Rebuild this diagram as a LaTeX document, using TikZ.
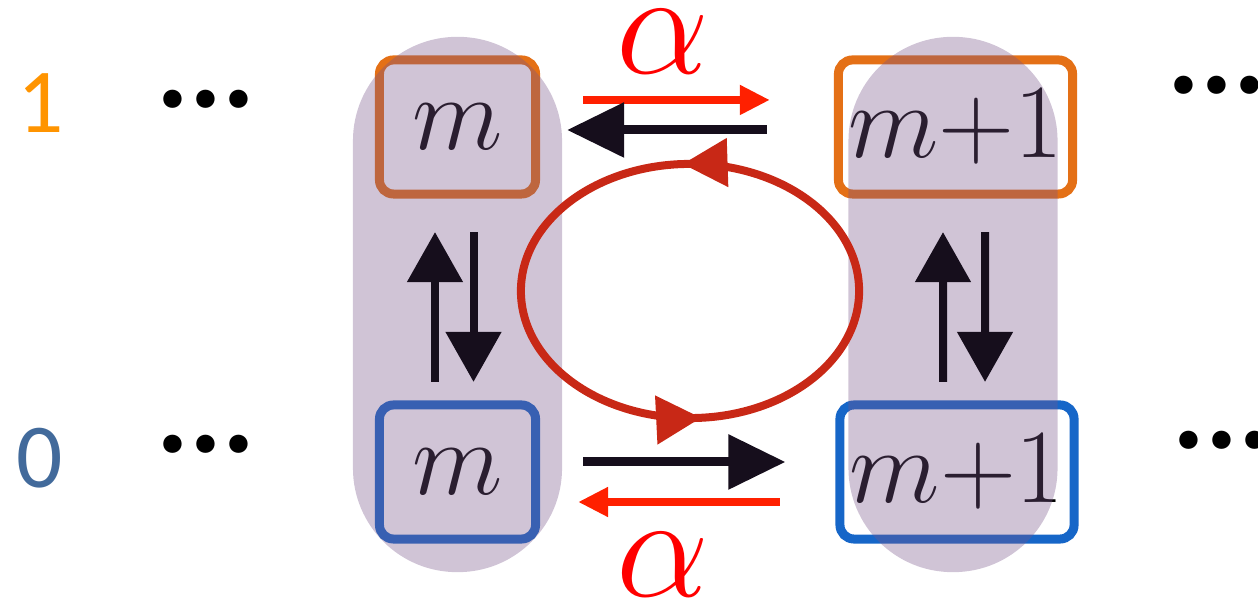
\RequirePackage{fix-cm}
\documentclass[tikz,border=0pt]{standalone}
\usepackage{fontspec}
\newfontfamily\calibfont{Carlito}
\usepackage{tikz}
\usetikzlibrary{
  arrows.meta,
  positioning,
  decorations.markings
}
\definecolor{levelOrange}{RGB}{228,112,22}
\definecolor{levelBlue}{RGB}{22,102,200}
\definecolor{oneOrange}{RGB}{255,148,0}
\definecolor{zeroBlue}{RGB}{66,106,155}
\definecolor{capsulePurple}{RGB}{121,86,138}
\definecolor{rateRed}{RGB}{255,32,0}
\definecolor{loopRed}{RGB}{200,40,22}
\definecolor{arrowBlack}{RGB}{22,14,28}

\begin{document}
\begin{tikzpicture}[
  x=0.01cm, y=0.01cm,
  state/.style={
    rectangle,
    rounded corners=4pt,
    line width=0.09cm,
    minimum height=1.34cm,
    inner sep=0pt,
    font=\fontsize{30}{36}\selectfont
  },
  narrowstate/.style={state, minimum width=1.56cm},
  widestate/.style={state, minimum width=2.34cm},
  capsule/.style={
    rectangle,
    rounded corners=1.04cm,
    fill=capsulePurple,
    fill opacity=0.35,
    minimum width=2.09cm,
    minimum height=5.35cm,
    inner sep=0pt
  },
  level/.style={font=\calibfont\fontsize{26}{30}\selectfont, inner sep=0pt},
  dots/.style={font=\calibfont\bfseries\fontsize{35}{40}\selectfont, inner sep=0pt},
  ratelabel/.style={text=red, font=\fontsize{42}{48}\selectfont, inner sep=0pt},
  hop/.style={-{Triangle[length=0.57cm, width=0.53cm]}, line width=0.09cm, arrowBlack},
  rate/.style={-{Triangle[length=0.3cm, width=0.28cm]}, line width=0.08cm, rateRed},
  flip/.style={-{Triangle[length=0.5cm, width=0.54cm]}, line width=0.08cm, arrowBlack},
  cycleloop/.style={
    loopRed, line width=0.08cm,
    postaction={decorate},
    decoration={markings,
      mark=at position 0.258 with {\arrow{Triangle[length=0.45cm, width=0.47cm]}},
      mark=at position 0.762 with {\arrow{Triangle[length=0.45cm, width=0.47cm]}}}
  }
]
\useasboundingbox (0,0) rectangle (1258,601);

% level labels and dots
\node[level, text=oneOrange] (one) at (41,498) {1};
\node[level, text=zeroBlue] (zero) at (40,143) {0};
\node[dots] (dotsul) at (206,502) {...};
\node[dots] (dotsll) at (206,157) {...};
\node[dots] (dotsur) at (1217,516) {...};
\node[dots] (dotslr) at (1222,161) {...};

% states
\node[narrowstate, draw=levelOrange] (upm) at (457.5,474) {$m$};
\node[narrowstate, draw=levelBlue] (downm) at (457.5,129) {$m$};
\node[widestate, draw=levelOrange] (upmp) at (955.5,474) {$m{+}1$};
\node[widestate, draw=levelBlue] (downmp) at (957,129) {$m{+}1$};

% columns
\node[capsule] (colm) at (457.5,296.5) {};
\node[capsule] (colmp) at (953,296.5) {};

% rates
\node[ratelabel] (alphaup) at (663,559) {$\alpha$};
\node[ratelabel] (alphadown) at (663,36) {$\alpha$};

\draw[rate, shorten <=0.43cm, shorten >=0.64cm]
  ([yshift=0.27cm]upm.east) -- ([yshift=0.27cm]upmp.west);
\draw[hop, shorten <=0.67cm, shorten >=0.27cm]
  ([yshift=-0.03cm]upmp.west) -- ([yshift=-0.03cm]upm.east);
\draw[hop, shorten <=0.43cm, shorten >=0.5cm]
  ([yshift=0.1cm]downm.east) -- ([yshift=0.1cm]downmp.west);
\draw[rate, shorten <=0.555cm, shorten >=0.38cm]
  ([yshift=-0.3cm]downmp.west) -- ([yshift=-0.3cm]downm.east);

\draw[flip, shorten <=0.185cm, shorten >=0.335cm]
  ([xshift=-0.225cm]downm.north) -- ([xshift=-0.225cm]upm.south);
\draw[flip, shorten <=0.335cm, shorten >=0.185cm]
  ([xshift=0.16cm]upm.south) -- ([xshift=0.16cm]downm.north);
\draw[flip, shorten <=0.185cm, shorten >=0.335cm]
  ([xshift=-0.14cm]downmp.north) -- ([xshift=-0.125cm]upmp.south);
\draw[flip, shorten <=0.335cm, shorten >=0.185cm]
  ([xshift=0.295cm]upmp.south) -- ([xshift=0.28cm]downmp.north);

% cycle
\coordinate (loop) at (690,310);
\draw[cycleloop] (loop) ellipse [x radius=1.69cm, y radius=1.27cm];

\end{tikzpicture}
\end{document}
